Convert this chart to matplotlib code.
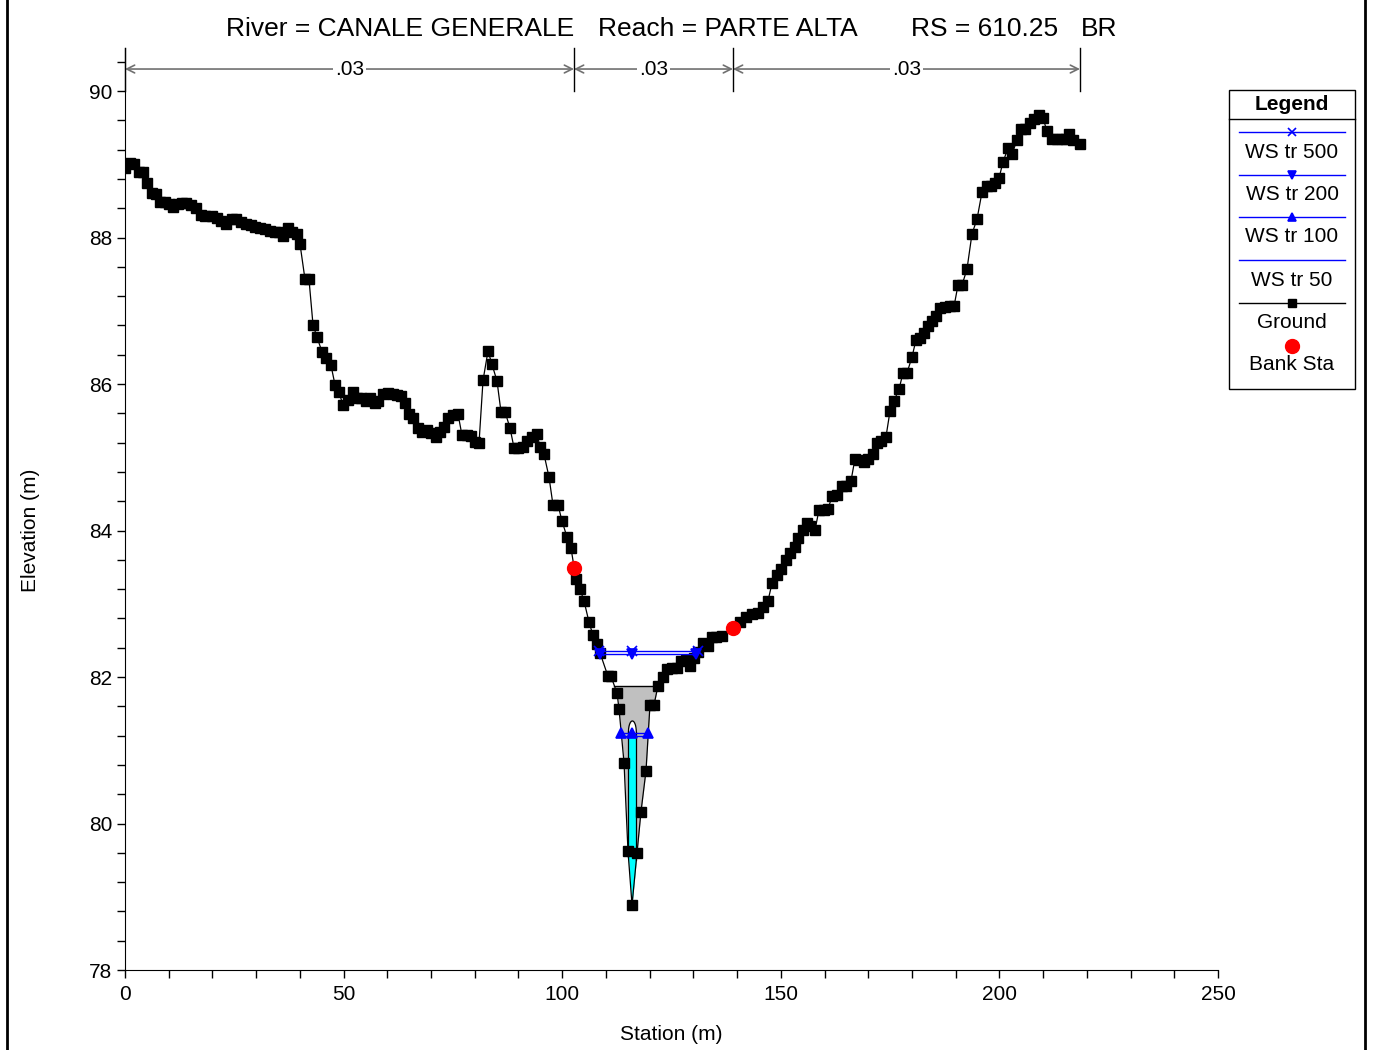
import numpy as np
import matplotlib
matplotlib.use('Agg')
import matplotlib.pyplot as plt
from matplotlib.ticker import MultipleLocator
from matplotlib.patches import Rectangle

plt.rcParams['font.family'] = ['Liberation Sans', 'DejaVu Sans']

# ground points (station m, elevation m)
station = [0.0, 1.14, 2.06, 3.20, 4.12, 5.03, 6.18, 7.09, 8.01, 9.15, 10.06, 10.98, 12.12, 13.04,
           13.95, 15.10, 16.24, 17.38, 18.30, 19.90, 21.04, 21.96, 23.10, 24.47, 25.39, 26.53,
           27.68, 28.82, 29.73, 30.88, 32.02, 33.17, 34.31, 35.22, 36.14, 37.28, 38.20, 39.34,
           40.03, 41.17, 42.08, 43.00, 43.91, 45.06, 45.94, 47.10, 48.03, 48.94, 49.86, 51.00,
           52.14, 53.06, 53.98, 55.12, 56.04, 57.18, 57.87, 59.01, 60.16, 61.30, 62.22, 63.13,
           64.05, 64.96, 65.88, 67.02, 67.93, 69.08, 69.99, 71.13, 72.05, 72.96, 73.88, 75.02,
           76.17, 77.08, 78.22, 79.14, 80.05, 80.97, 81.89, 83.03, 83.94, 85.09, 86.00, 86.92,
           88.06, 88.98, 89.89, 91.03, 91.95, 93.09, 94.24, 94.92, 95.84, 96.98, 97.89, 99.04,
           99.95, 101.10, 102.01, 103.15, 104.07, 104.98, 106.13, 107.04, 107.96, 108.64, 110.47,
           111.16, 112.54, 113.00, 114.14, 115.05, 115.97, 117.11, 118.02, 119.17, 120.08, 121.00,
           121.91, 123.05, 123.97, 125.11, 126.26, 127.17, 128.26, 129.17, 130.09, 131.00, 132.15,
           133.29, 134.20, 135.12, 136.49, 140.67, 142.04, 143.41, 144.78, 145.93, 147.07, 147.99,
           149.13, 150.05, 151.19, 152.11, 153.25, 153.94, 155.08, 156.00, 156.68, 157.83, 158.74,
           159.88, 160.80, 161.71, 162.85, 164.00, 164.91, 166.06, 166.97, 167.88, 169.03, 169.94,
           171.09, 172.00, 172.92, 174.06, 174.98, 175.89, 177.04, 177.95, 178.86, 180.01, 180.92,
           181.84, 182.75, 183.67, 184.58, 185.50, 186.41, 187.56, 188.70, 189.62, 190.53, 191.45,
           192.59, 193.73, 194.88, 196.02, 197.16, 198.08, 199.00, 199.91, 200.82, 201.97, 202.88,
           204.03, 204.94, 205.86, 207.00, 207.92, 209.06, 209.98, 210.89, 212.03, 213.17, 214.32,
           215.23, 215.92, 216.83, 218.43]
elev = [88.95, 89.02, 89.00, 88.89, 88.89, 88.74, 88.61, 88.59, 88.48, 88.48, 88.46, 88.42, 88.46, 88.47,
        88.47, 88.44, 88.40, 88.31, 88.29, 88.29, 88.27, 88.23, 88.18, 88.25, 88.25, 88.21,
        88.18, 88.17, 88.14, 88.13, 88.12, 88.09, 88.08, 88.08, 88.02, 88.13, 88.08, 88.05,
        87.91, 87.43, 87.43, 86.81, 86.64, 86.44, 86.35, 86.26, 85.99, 85.89, 85.71, 85.78,
        85.89, 85.81, 85.81, 85.77, 85.81, 85.74, 85.77, 85.86, 85.88, 85.86, 85.85, 85.84,
        85.74, 85.59, 85.54, 85.40, 85.34, 85.37, 85.33, 85.28, 85.34, 85.41, 85.54, 85.58,
        85.59, 85.30, 85.30, 85.29, 85.21, 85.19, 86.05, 86.45, 86.27, 86.04, 85.62, 85.62,
        85.40, 85.13, 85.13, 85.14, 85.22, 85.28, 85.32, 85.14, 85.04, 84.73, 84.35, 84.35,
        84.13, 83.91, 83.76, 83.34, 83.20, 83.04, 82.75, 82.57, 82.45, 82.33, 82.01,
        82.01, 81.78, 81.56, 80.83, 79.62, 78.89, 79.60, 80.16, 80.72, 81.62, 81.62,
        81.88, 82.00, 82.11, 82.12, 82.12, 82.22, 82.23, 82.15, 82.26, 82.34, 82.46,
        82.42, 82.55, 82.55, 82.56, 82.75, 82.82, 82.86, 82.87, 82.96, 83.04, 83.28,
        83.39, 83.47, 83.60, 83.69, 83.77, 83.90, 84.01, 84.10, 84.06, 84.01, 84.28,
        84.28, 84.29, 84.47, 84.48, 84.61, 84.61, 84.68, 84.98, 84.96, 84.94, 84.98,
        85.04, 85.19, 85.22, 85.28, 85.63, 85.77, 85.93, 86.15, 86.15, 86.37, 86.60,
        86.63, 86.70, 86.79, 86.86, 86.93, 87.04, 87.05, 87.06, 87.06, 87.35, 87.35,
        87.57, 88.05, 88.25, 88.62, 88.70, 88.70, 88.74, 88.81, 89.03, 89.22, 89.14,
        89.33, 89.48, 89.48, 89.56, 89.62, 89.67, 89.63, 89.45, 89.34, 89.34, 89.34,
        89.34, 89.41, 89.33, 89.28]

bank_sta = [102.70, 139.06]
bank_elev = [83.49, 82.67]

ws_names = ['WS tr 500', 'WS tr 200', 'WS tr 100', 'WS tr 50']
ws_elev = [82.355, 82.31, 81.236, 81.195]
ws_markers = ['x', 'v', '^', None]

mann_n = ['.03', '.03', '.03']

# bridge
deck_top = 81.88
slot_left, slot_right = 115.15, 116.95
spring, crown = 81.25, 81.40

title_parts = ['River = CANALE GENERALE', 'Reach = PARTE ALTA', 'RS = 610.25', 'BR']
title_px = [226, 598, 911, 1081]

blue = '#0000ff'

st = np.array(station)
el = np.array(elev)
i_low = int(np.argmin(el))


def crossing(level):
    # walk out from thalweg to where ground reaches level
    i = i_low
    while el[i] < level:
        i -= 1
    xl = np.interp(level, [el[i + 1], el[i]], [st[i + 1], st[i]])
    j = i_low
    while el[j] < level:
        j += 1
    xr = np.interp(level, [el[j - 1], el[j]], [st[j - 1], st[j]])
    return xl, xr


fig = plt.figure(figsize=(13.77, 10.5), dpi=100)
ax = fig.add_axes([125 / 1377, 1 - 970 / 1050, 1093 / 1377, 922 / 1050])

# bridge deck (grey)
xf = np.linspace(108, 124, 2000)
gf = np.interp(xf, st, el)
ax.fill_between(xf, gf, deck_top, where=gf < deck_top, interpolate=True,
                color='#c0c0c0', lw=0, zorder=1)
dl, dr = crossing(deck_top)
ax.plot([dl, dr], [deck_top, deck_top], color='k', lw=1, zorder=2)

# opening
xs = np.linspace(slot_left, slot_right, 200)
gs = np.interp(xs, st, el)
xc = (slot_left + slot_right) / 2
r = (slot_right - slot_left) / 2
arch = spring + (crown - spring) * np.sqrt(np.clip(1 - ((xs - xc) / r) ** 2, 0, 1))
ax.fill_between(xs, gs, arch, color='white', lw=0, zorder=2)
ax.fill_between(xs, gs, ws_elev[3], where=gs < ws_elev[3], color='#00ffff', lw=0, zorder=3)
ax.plot(xs, arch, color='k', lw=0.9, zorder=3)
ax.plot([slot_left, slot_left], [np.interp(slot_left, st, el), spring], color='k', lw=0.9, zorder=3)
ax.plot([slot_right, slot_right], [np.interp(slot_right, st, el), spring], color='k', lw=0.9, zorder=3)

# ground
ax.plot(st, el, color='k', lw=0.9, marker='s', ms=6.5, mfc='k', mec='k', zorder=4)
ax.plot(bank_sta, bank_elev, ls='none', marker='o', ms=10, color='red', zorder=5)

# water surfaces
for name, wse, mk in zip(ws_names, ws_elev, ws_markers):
    xl, xr = crossing(wse)
    ax.plot([xl, xr], [wse, wse], color=blue, lw=1, zorder=6)
    if mk:
        ax.plot([xl, st[i_low], xr], [wse] * 3, ls='none', marker=mk, ms=7,
                color=blue, mec=blue, mew=1.2, zorder=6)

# manning's n
bounds = [st[0], bank_sta[0], bank_sta[1], st[-1]]
y_top = 90 + 43 / 73.25
y_arrow = 90.30
for b in bounds:
    ax.plot([b, b], [90.0, y_top], color='k', lw=1, clip_on=False, zorder=7)
for k, n in enumerate(mann_n):
    a, b = bounds[k], bounds[k + 1]
    ax.annotate('', xy=(a, y_arrow), xytext=(b, y_arrow),
                arrowprops=dict(arrowstyle='<->', color='#707070', lw=1.2,
                                shrinkA=0, shrinkB=0, mutation_scale=14),
                annotation_clip=False)
    ax.text((a + b) / 2, y_arrow, n, ha='center', va='center', fontsize=15,
            bbox=dict(boxstyle='square,pad=0.1', fc='white', ec='none'), zorder=8)

ax.set_xlim(0, 250)
ax.set_ylim(78, y_top)
ax.set_xticks(range(0, 251, 50))
ax.set_yticks(range(78, 91, 2))
ax.xaxis.set_minor_locator(MultipleLocator(10))
ax.yaxis.set_minor_locator(MultipleLocator(0.4))
ax.tick_params(which='both', direction='out', length=6, width=1, labelsize=15)
ax.tick_params(axis='y', pad=3)
ax.tick_params(axis='x', pad=5)
ax.spines['top'].set_visible(False)
ax.spines['right'].set_visible(False)

# overlay in pixel coordinates for labels, legend, frame
ov = fig.add_axes([0, 0, 1, 1], zorder=10)
ov.set_xlim(0, 1377)
ov.set_ylim(1050, 0)
ov.axis('off')
ov.patch.set_alpha(0)

for t, px in zip(title_parts, title_px):
    ov.text(px, 29, t, ha='left', va='center', fontsize=19)
ov.text(671, 1035, 'Station (m)', ha='center', va='center', fontsize=15)
ov.text(30, 530, 'Elevation (m)', ha='center', va='center', fontsize=15, rotation=90)

ov.plot([7, 7], [0, 1050], color='k', lw=2)
ov.plot([1365, 1365], [0, 1050], color='k', lw=2)

ov.add_patch(Rectangle((1229, 90), 126, 299, fc='white', ec='k', lw=1))
ov.plot([1229, 1355], [119, 119], color='k', lw=1)
ov.text(1292, 104, 'Legend', ha='center', va='center', fontsize=15, fontweight='bold')
leg_y = [132, 175, 217, 260]
for name, mk, y in zip(ws_names, ws_markers, leg_y):
    ov.plot([1239, 1345], [y, y], color=blue, lw=1)
    if mk:
        ov.plot([1292], [y], marker=mk, ms=6, color=blue, mew=1.2)
    ov.text(1292, y + 20, name, ha='center', va='center', fontsize=15)
ov.plot([1239, 1345], [303, 303], color='k', lw=1)
ov.plot([1292], [303], marker='s', ms=6, color='k')
ov.text(1292, 323, 'Ground', ha='center', va='center', fontsize=15)
ov.plot([1292], [346], marker='o', ms=10, color='red')
ov.text(1292, 365, 'Bank Sta', ha='center', va='center', fontsize=15)

fig.savefig('out.png', dpi=100)
